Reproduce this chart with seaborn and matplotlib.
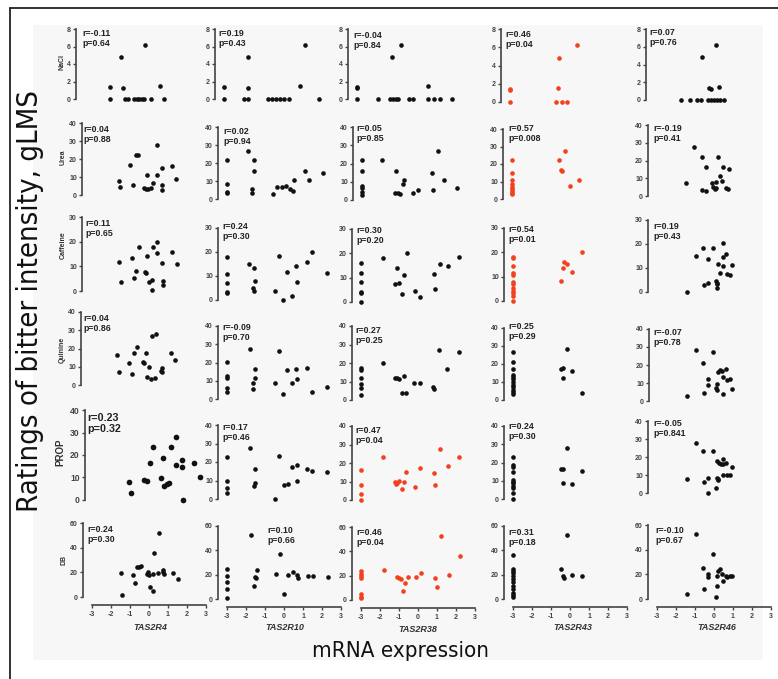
import matplotlib
matplotlib.use("Agg")
import matplotlib.pyplot as plt
from matplotlib.patches import Rectangle
from matplotlib.lines import Line2D
import seaborn as sns

# =============================
# DATA
# =============================
GENES = ["TAS2R4", "TAS2R10", "TAS2R38", "TAS2R43", "TAS2R46"]
TASTANTS = ["NaCl", "Urea", "Caffeine", "Quinine", "PROP", "DB"]
Y_MAX = [8, 40, 30, 40, 40, 60]
Y_STEP = [2, 10, 10, 10, 10, 20]

NACL_X = [
    [-1.68, -1.68, -1.1, -1.0, -0.9, -0.74, -0.42, -0.26, -0.16, 0.0, 0.1, 0.47, 0.16, 0.95, 1.16],
    [-3, -3, -1.74, -1.74, -1.95, -1.74, -0.68, -0.47, -0.26, -0.05, 0.16, 0.42, 1.0, 1.26, 2.0],
    [-3, -3, -3, -1.9, -1.26, -1.1, -0.95, -0.84, -1.16, -0.68, -0.26, -0.05, 0.74, 0.74, 1.05, 1.37, 2.0],
    [-3, -3, -3, -0.42, -0.47, -0.58, -0.26, 0.0, 0.53],
    [-1.63, -1.16, -0.79, -0.58, -0.53, -0.21, -0.05, 0.1, 0.26, 0.42, 0.63, -0.16, -0.05, 0.21, 0.37],
]
NACL_Y = [
    [0, 1.4, 4.8, 1.3, 0, 0, 0, 0, 0, 0, 0, 0, 6.2, 1.5, 0],
    [0, 1.4, 4.8, 1.3, 0, 0, 0, 0, 0, 0, 0, 0, 1.5, 6.2, 0],
    [0, 1.3, 1.4, 0, 0, 0, 0, 0, 4.8, 6.2, 0, 0, 1.5, 0, 0, 0, 0],
    [0, 1.3, 1.4, 4.8, 1.5, 0, 0, 0, 6.2],
    [0, 0, 0, 0, 4.8, 0, 0, 0, 0, 0, 0, 1.35, 1.25, 6.2, 1.5],
]

UREA_X = [
    [-1.53, -1.47, -0.95, -0.79, -0.63, -0.53, -0.05, -0.21, -0.1, 0.0, 0.16, 0.26, 0.47, 0.47, 0.74, 0.74, 0.74, 1.26, 1.47],
    [-3, -3, -3, -3, -1.9, -1.58, -1.58, -1.68, -1.68, -0.58, -0.37, -0.1, 0.1, 0.32, 0.47, 0.53, 1.1, 1.32, 2.05],
    [-3, -3, -3, -3, -3, -3, -1.95, -1.21, -1.26, -1.1, -1.0, -0.84, -0.79, -0.32, -0.05, 0.68, 0.74, 1.0, 1.32, 2.0],
    [-3, -3, -3, -3, -3, -3, -3, -3, -3, -0.21, -0.53, -0.42, -0.37, 0.05, 0.53],
    [-1.47, -1.05, -0.63, -0.42, -0.63, -0.42, -0.1, 0.1, 0.21, -0.05, 0.05, 0.1, 0.32, 0.42, 0.47, 0.63, 0.74, 0.79],
]
UREA_Y = [
    [7.8, 4.2, 16.7, 5.6, 22.2, 22.2, 11.1, 3.9, 3.3, 3.3, 3.9, 6.7, 27.8, 11.1, 15.0, 5.6, 2.8, 16.1, 8.9],
    [21.7, 8.3, 3.9, 3.3, 26.7, 21.7, 15.6, 5.6, 3.3, 2.8, 6.7, 6.7, 7.2, 5.6, 4.4, 10.6, 15.6, 10.6, 14.6],
    [21.9, 15.9, 7.7, 6.6, 4.4, 2.7, 21.9, 15.9, 3.8, 3.8, 3.3, 8.8, 11.0, 3.8, 5.5, 14.8, 5.5, 26.8, 11.0, 6.6],
    [22.2, 15, 11, 8.5, 6.7, 5.5, 4.5, 3.6, 2.8, 27.4, 22.3, 16.6, 16, 7.4, 10.9],
    [7.3, 27.6, 22, 16.3, 3.4, 2.8, 7.3, 7.9, 22, 5.1, 3.9, 4.5, 11.3, 8.5, 16.3, 4.5, 3.9, 15.2],
]

CAFFEINE_X = [
    [-1.53, -1.42, -0.84, -0.74, -0.63, -0.47, -0.16, -0.1, -0.05, 0.05, 0.21, 0.21, 0.26, 0.47, 0.47, 0.74, 0.79, 0.79, 1.26, 1.53],
    [-3, -3, -3, -3, -3, -1.84, -1.58, -1.53, -1.63, -1.58, -0.47, -0.26, -0.05, 0.16, 0.42, 0.63, 0.68, 1.2, 1.47, 2.26],
    [-3, -3, -3, -3, -3, -3, -1.84, -1.1, -1.21, -1.0, -0.74, -0.84, -0.58, -0.16, 0.1, 0.84, 0.89, 1.16, 1.58, 2.16],
    [-3, -3, -3, -3, -3, -3, -3, -3, -3, -3, -3, -3, -0.47, -0.37, -0.32, -0.16, 0.1, 0.63],
    [-1.42, -0.95, -0.58, -0.53, -0.32, -0.32, -0.05, 0.1, 0.16, 0.16, 0.16, 0.21, 0.32, 0.47, 0.47, 0.47, 0.63, 0.68, 0.84, 0.95],
]
CAFFEINE_Y = [
    [11.7, 3.6, 13.4, 5.3, 8.1, 17.8, 7.7, 7.3, 14.2, 3.6, 4.5, 0.4, 17.8, 19.8, 15.4, 11.3, 4.0, 2.4, 15.8, 10.9],
    [17.9, 10.8, 7.1, 3.3, 2.9, 15, 13.3, 7.9, 5, 3.8, 3.8, 18.3, 0, 11.7, 1.7, 14.2, 7.5, 15.8, 20, 11.3],
    [16, 12, 8.2, 4.1, 3.7, 0, 18.1, 14, 7.4, 7.8, 11.1, 3.3, 20, 4.5, 2.1, 11.5, 5.3, 15.6, 14.8, 18.5],
    [18.2, 17.6, 14.5, 11.4, 10.7, 7.7, 7.0, 5.2, 4.1, 3.2, 2.2, 0, 8.2, 13.6, 16, 15.2, 11.9, 20.2],
    [0, 15, 18.3, 2.9, 13.8, 3.8, 18.3, 4.6, 3.8, 3.3, 1.7, 11.7, 7.9, 20.4, 14.6, 10.8, 15.8, 7.5, 7.1, 11.3],
]

QUININE_X = [
    [-1.58, -1.47, -0.95, -0.79, -0.68, -0.53, -0.05, -0.21, -0.16, 0.1, 0.0, 0.21, 0.26, 0.42, 0.47, 0.74, 0.79, 0.79, 1.26, 1.47],
    [-3, -3, -3, -3, -3, -1.79, -1.53, -1.53, -1.63, -1.63, -0.47, -0.26, -0.05, 0.16, 0.42, 0.63, 0.68, 1.2, 1.47, 2.26],
    [-3, -3, -3, -3, -3, -3, -1.84, -1.21, -1.1, -1.0, -0.74, -0.84, -0.63, -0.21, 0.1, 0.79, 0.84, 1.1, 1.53, 2.16],
    [-3, -3, -3, -3, -3, -3, -3, -3, -3, -3, -3, -3, -0.16, -0.47, -0.37, -0.37, 0.1, 0.63],
    [-1.47, -1.0, -0.63, -0.58, -0.37, -0.37, -0.11, 0.05, 0.11, 0.11, 0.16, 0.26, 0.37, 0.42, 0.42, 0.58, 0.63, 0.79, 0.89],
]
QUININE_Y = [
    [16.4, 7.1, 12.1, 6.0, 17.5, 20.8, 17.5, 12.6, 12.1, 9.9, 4.4, 3.3, 26.8, 3.8, 27.9, 7.7, 9.3, 7.1, 17.5, 13.7],
    [20.3, 12.6, 11.5, 6.0, 3.8, 27.4, 16.4, 11.5, 8.8, 5.5, 8.8, 26.3, 2.7, 15.9, 8.8, 16.4, 11.0, 17.0, 3.8, 6.6],
    [17.3, 16.2, 11.9, 8.6, 6.5, 2.7, 20, 11.9, 11.9, 11.4, 13, 3.8, 3.8, 9.2, 9.2, 7, 5.9, 27, 16.8, 26],
    [26.7, 21, 17, 13.9, 12.6, 11.5, 9.8, 8.3, 7, 5.6, 4.4, 3.3, 28.3, 17.2, 17.8, 12.2, 16.1, 3.9],
    [2.8, 28.3, 21.1, 4.4, 12.2, 8.9, 27.2, 7.2, 6.1, 9.4, 16.1, 17.2, 16.7, 3.9, 13.3, 17.8, 11.7, 12.2, 6.7],
]

PROP_X = [
    [-1.59, -1.5, -0.95, -0.82, -0.69, -0.56, -0.22, -0.14, -0.09, 0.03, 0.12, 0.2, 0.42, 0.42, 0.68, 0.68, 0.72, 1.19, 1.44],
    [-3, -3, -3, -3, -1.79, -1.53, -1.53, -1.58, -0.47, -0.26, 0.0, 0.21, 0.42, 0.68, 0.68, 1.2, 1.47, 2.26],
    [-3, -3, -3, -3, -1.84, -1.21, -1.1, -1.0, -1.16, -0.84, -0.74, -0.63, -0.16, 0.1, 0.84, 0.89, 1.16, 1.58, 2.16],
    [-3, -3, -3, -3, -3, -3, -3, -3, -3, -3, -3, -0.47, -0.37, -0.16, -0.37, 0.1, 0.63],
    [-1.42, -0.95, -0.58, -0.53, -0.32, -0.32, -0.05, 0.1, 0.16, 0.21, 0.21, 0.16, 0.26, 0.37, 0.47, 0.47, 0.63, 0.47, 0.68, 0.84, 0.95],
]
PROP_Y = [
    [8, 3.1, 8.9, 8.4, 16.4, 23.6, 9.8, 18.7, 6.2, 7.1, 7.6, 23.6, 28, 15.6, 17.8, 14.7, 0, 16.4, 10.2],
    [22.7, 9.7, 5.9, 3.2, 27.6, 16.2, 8.6, 7.0, 0, 23.2, 7.6, 8.1, 17.3, 18.4, 9.7, 16.2, 15.1, 14.6],
    [16.2, 8.1, 3.2, 0, 23.2, 9.7, 9.2, 10.3, 8.6, 6, 9.7, 15.1, 7, 17.3, 14.6, 8.1, 27.6, 18.4, 23.2],
    [23.2, 18.6, 17.4, 15, 10.4, 9.5, 8.6, 7.3, 5.8, 3.1, 0, 16.4, 16.4, 27.9, 8.6, 8.2, 15.3],
    [7.8, 27.8, 23.3, 6.1, 8.3, 0, 23.3, 2.8, 8.3, 7.2, 7.8, 17.8, 16.7, 16.1, 18.9, 16.1, 16.7, 10, 10, 10, 14.4],
]

DB_X = [
    [-1.47, -1.42, -0.84, -0.74, -0.63, -0.53, -0.42, -0.1, -0.05, 0.0, 0.05, 0.21, 0.26, 0.21, 0.47, 0.53, 0.74, 0.79, 0.74, 1.26, 1.53],
    [-3, -3, -3, -3, -3, -1.74, -1.58, -1.53, -1.42, -1.47, -0.42, -0.21, 0.0, 0.21, 0.47, 0.68, 0.74, 1.26, 1.53, 2.32],
    [-3, -3, -3, -3, -3, -3, -3, -1.79, -1.1, -1.0, -0.89, -0.79, -0.68, -0.53, -0.1, 0.16, 0.89, 1.0, 1.21, 1.63, 2.21],
    [-3, -3, -3, -3, -3, -3, -3, -3, -3, -3, -3, -3, -0.16, -0.47, -0.37, -0.32, 0.1, 0.63],
    [-1.42, -0.95, -0.58, -0.53, -0.32, -0.32, -0.05, 0.1, 0.16, 0.16, 0.21, 0.32, 0.42, 0.47, 0.63, 0.68, 0.84, 0.95],
]
DB_Y = [
    [19.5, 1.6, 17.8, 11.4, 24.3, 24.3, 25.1, 18.6, 20.3, 17.8, 8.1, 4.9, 35.7, 18.6, 19.5, 51.9, 21.9, 18.6, 20.3, 19.5, 14.6],
    [24.7, 18.9, 14.2, 7.9, 1.1, 52.6, 10.7, 18.1, 23.8, 17.3, 20.5, 37, 4.1, 19.7, 22.2, 19.7, 17.3, 18.9, 18.9, 18.1],
    [24.1, 21.4, 19.7, 18.3, 4.7, 2.7, 1.4, 24.7, 18.9, 18.1, 17.3, 7.4, 14, 18.9, 18.9, 22.2, 18.1, 10.7, 52.6, 20.5, 36.2],
    [36.2, 24.4, 23, 21.1, 18.9, 16.4, 14.2, 10.7, 8, 5.2, 3.3, 1.4, 52.6, 24.7, 18.9, 17.3, 19.7, 18.9],
    [4.1, 52.7, 25.1, 8.1, 20.3, 17.8, 36.5, 1.6, 10.5, 18.6, 22.7, 24.3, 20.3, 14.6, 18.6, 17.8, 18.6, 18.6],
]

R_VALUES = [
    ["-0.11", "0.19", "-0.04", "0.46", "0.07"],
    ["0.04", "0.02", "0.05", "0.57", "-0.19"],
    ["0.11", "0.24", "0.30", "0.54", "0.19"],
    ["0.04", "-0.09", "0.27", "0.25", "-0.07"],
    ["0.23", "0.17", "0.47", "0.24", "-0.05"],
    ["0.24", "0.10", "0.46", "0.31", "-0.10"],
]
P_VALUES = [
    ["0.64", "0.43", "0.84", "0.04", "0.76"],
    ["0.88", "0.94", "0.85", "0.008", "0.41"],
    ["0.65", "0.30", "0.20", "0.01", "0.43"],
    ["0.86", "0.70", "0.25", "0.29", "0.78"],
    ["0.32", "0.46", "0.04", "0.30", "0.841"],
    ["0.30", "0.66", "0.04", "0.18", "0.67"],
]
# significant panels drawn in red (row, col)
SIGNIFICANT = [(0, 3), (1, 3), (2, 3), (4, 2), (5, 2)]

ALL_X = [NACL_X, UREA_X, CAFFEINE_X, QUININE_X, PROP_X, DB_X]
ALL_Y = [NACL_Y, UREA_Y, CAFFEINE_Y, QUININE_Y, PROP_Y, DB_Y]

# =============================
# LAYOUT (pixel positions of each pasted panel)
# =============================
SPINE_X = [
    [76, 215, 348, 501, 646],
    [82, 218, 353, 503, 648],
    [82, 218, 352, 504, 648],
    [81, 218, 352, 504, 649],
    [85, 218, 352, 504, 648],
    [83, 218, 352, 504, 648],
]
Y_TOP = [
    [29, 29, 29, 29, 29],
    [123, 127, 127, 129, 125],
    [217, 228, 229, 228, 220],
    [312, 326, 326, 328, 329],
    [410, 425, 426, 426, 421],
    [523, 526, 527, 526, 525],
]
Y_ZERO = [
    [99, 99, 99, 102, 100],
    [195, 199, 200, 199, 196],
    [291, 300, 302, 301, 292],
    [385, 399, 400, 400, 401],
    [500, 499, 500, 499, 493],
    [597, 599, 600, 599, 599],
]
TEXT_POS = [
    [(82, 29), (218, 29), (353, 31), (505, 30), (649, 28)],
    [(83, 125), (223, 127), (356, 124), (508, 124), (653, 124)],
    [(85, 219), (222, 222), (356, 226), (508, 225), (653, 222)],
    [(83, 314), (222, 323), (355, 326), (508, 322), (653, 328)],
    [(87, 413), (222, 423), (355, 426), (508, 422), (653, 419)],
    [(87, 525), (267, 526), (356, 528), (508, 528), (655, 526)],
]
ROW_LABEL_POS = [(62, 62), (63, 157), (63, 245), (62, 350), (60, 452), (64, 560)]
GENE_LABEL_POS = [(150, 628), (285, 628), (418, 629), (573, 628), (717, 627)]

W, H = 778, 679
BLACK = "#111111"
RED = "#f2411d"
AXIS_COLOR = "#444444"

sns.set_style("ticks")
plt.rcParams["font.family"] = ["Liberation Sans", "DejaVu Sans"]

fig = plt.figure(figsize=(W / 100, H / 100), dpi=100)


def fx(px):
    return px / W


def fy(py):
    return 1 - py / H


# background panel and frame
fig.patches.append(Rectangle((fx(33), fy(660)), (763 - 33) / W, (660 - 25) / H,
                             transform=fig.transFigure, facecolor="#f7f7f7",
                             edgecolor="none", zorder=-5))
fig.add_artist(Line2D([fx(10), 1], [fy(8), fy(8)], color="#222222", lw=1.3))
fig.add_artist(Line2D([fx(10), fx(10)], [fy(8), 0], color="#222222", lw=1.3))

for r in range(6):
    ymax = Y_MAX[r]
    for c in range(5):
        sc = 1.23 if (r, c) == (4, 0) else 1.0
        sx = SPINE_X[r][c]
        yt = Y_TOP[r][c]
        yz = Y_ZERO[r][c]
        ppu = 19 * sc
        ppy = (yz - yt) / ymax
        pad = 8 * sc
        wpx = 132 * sc

        ax = fig.add_axes([fx(sx), fy(yz + pad), wpx / W, (yz + pad - yt) / H])
        ax.patch.set_alpha(0)
        xmin = -3 - 9 * sc / ppu
        ax.set_xlim(xmin, xmin + wpx / ppu)
        ax.set_ylim(-pad / ppy, ymax)

        color = RED if (r, c) in SIGNIFICANT else BLACK
        sns.scatterplot(x=ALL_X[r][c], y=ALL_Y[r][c], ax=ax, color=color,
                        s=11 * sc * sc, linewidth=0, clip_on=False, zorder=3)

        sns.despine(ax=ax, top=True, right=True, bottom=(r != 5))
        ax.spines["left"].set_bounds(0, ymax)
        ax.spines["left"].set_color(AXIS_COLOR)
        ax.spines["left"].set_linewidth(1.2)
        yticks = list(range(0, ymax + 1, Y_STEP[r]))
        ax.set_yticks(yticks)
        ax.set_yticklabels([str(t) for t in yticks], fontsize=5 * sc,
                           fontweight="bold", color=AXIS_COLOR)
        ax.tick_params(axis="y", length=2.5, width=1, pad=1.2, color=AXIS_COLOR)

        if r == 5:
            ax.spines["bottom"].set_bounds(-3, 3)
            ax.spines["bottom"].set_color(AXIS_COLOR)
            ax.spines["bottom"].set_linewidth(1.2)
            xticks = list(range(-3, 4))
            ax.set_xticks(xticks)
            ax.set_xticklabels([str(t) for t in xticks], fontsize=5,
                               fontweight="bold", color=AXIS_COLOR)
            ax.tick_params(axis="x", length=2.5, width=1, pad=1.5, color=AXIS_COLOR)
        else:
            ax.set_xticks([])

        ax.set_xlabel("")
        ax.set_ylabel("")

        tx, ty = TEXT_POS[r][c]
        fig.text(fx(tx), fy(ty), f"r={R_VALUES[r][c]}\np={P_VALUES[r][c]}",
                 ha="left", va="top", fontsize=6.3 * sc, fontweight="bold",
                 color="#222222", linespacing=1.15)

# row labels (tastants)
for r, name in enumerate(TASTANTS):
    lx, ly = ROW_LABEL_POS[r]
    fig.text(fx(lx), fy(ly), name, rotation=90, ha="center", va="center",
             fontsize=7 if name == "PROP" else 5, fontweight="bold", color="#333333")

# column labels (genes)
for c, gene in enumerate(GENES):
    gx, gy = GENE_LABEL_POS[c]
    fig.text(fx(gx), fy(gy), gene, ha="center", va="center", fontsize=6.5,
             fontweight="bold", fontstyle="italic", color="#333333")

# big axis titles in a condensed face
fig.text(fx(30), fy(301), "Ratings of bitter intensity, gLMS", rotation=90,
         ha="center", va="center", fontsize=21, family="DejaVu Sans",
         fontstretch="condensed", color="#111111")
fig.text(fx(400), fy(651), "mRNA expression", ha="center", va="center",
         fontsize=16, family="DejaVu Sans", fontstretch="condensed",
         color="#111111")

fig.savefig("out.png", dpi=100)
